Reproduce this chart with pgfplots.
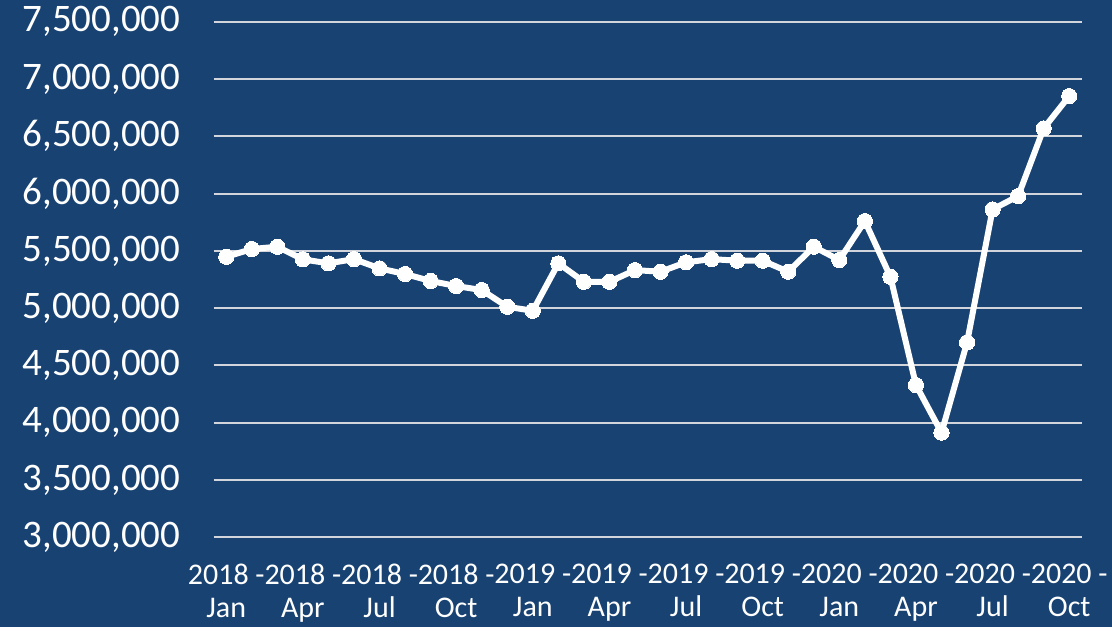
\documentclass[border=0pt]{standalone}
\usepackage{fontspec}
\setmainfont{Carlito}
\usepackage{pgfplots}
\pgfplotsset{compat=1.18}
\definecolor{bg}{RGB}{24,66,114}
\definecolor{gridc}{RGB}{210,214,220}
\begin{document}
\begin{tikzpicture}
\fill[bg] (0,0) rectangle (556pt,313.5pt);
\begin{axis}[
  at={(106.75pt,44.85pt)}, anchor=south west,
  scale only axis, width=434.25pt, height=257.8pt,
  xmin=-0.5, xmax=33.5, ymin=3000000, ymax=7500000,
  axis line style={draw=none},
  major tick length=0pt,
  ytick={3000000,3500000,...,7500000},
  xtick={0,3,...,33},
  xticklabels={{2018 -\\Jan},{2018 -\\Apr},{2018 -\\Jul},{2018 -\\Oct},{2019 -\\Jan},{2019 -\\Apr},{2019 -\\Jul},{2019 -\\Oct},{2020 -\\Jan},{2020 -\\Apr},{2020 -\\Jul},{2020 -\\Oct}},
  scaled y ticks=false,
  /pgf/number format/assume math mode=true,
  yticklabel style={/pgf/number format/fixed,/pgf/number format/1000 sep={,}, font=\fontsize{19.5}{23}\selectfont, text=white, xshift=-13pt},
  xticklabel style={align=center, font=\fontsize{15}{16.5}\selectfont, text=white, yshift=-10pt},
  ymajorgrids, grid style={color=gridc, line width=1pt},
  clip=false,
]
\addplot[white, line width=3pt, mark=*, mark size=3.8pt, mark options={fill=white, draw=white, line width=0pt}] coordinates {
(0,5448000) (1,5516000) (2,5536000) (3,5426000) (4,5391000) (5,5428000)
(6,5347000) (7,5298000) (8,5237000) (9,5193000) (10,5158000) (11,5012000)
(12,4977000) (13,5391000) (14,5230000) (15,5230000) (16,5332000) (17,5318000)
(18,5400000) (19,5428000) (20,5414000) (21,5414000) (22,5318000) (23,5536000)
(24,5420000) (25,5760000) (26,5274000) (27,4329000) (28,3913000) (29,4701000)
(30,5862000) (31,5978000) (32,6569000) (33,6851000)
};
\end{axis}
\pgfresetboundingbox
\useasboundingbox (0,0) rectangle (556pt,313.5pt);
\end{tikzpicture}
\end{document}
